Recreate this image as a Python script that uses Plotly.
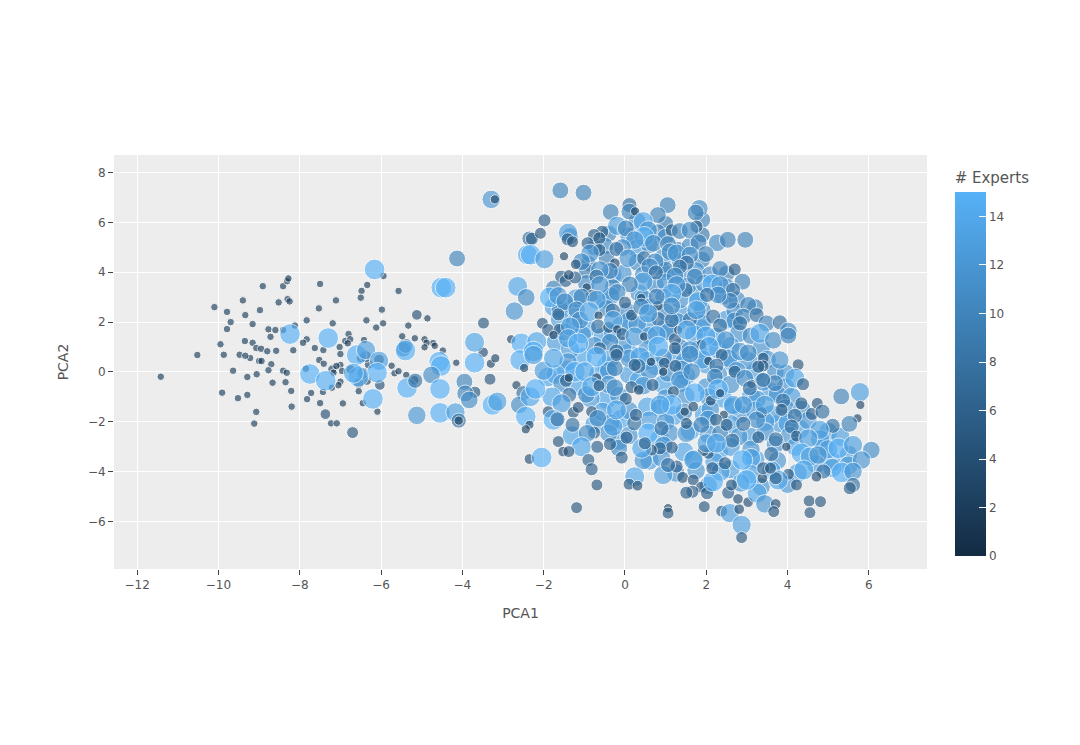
import plotly.graph_objects as go

# values, ten points per line
# big pale points that sit underneath the crowd in the middle
under_pca1 = [
    -1.75, -1.3, -.95, -1.7, -1.05, -.55, -.1, -.45, .1, .55,
    1.0, 1.4, 1.85, 2.5, 2.3, 1.25, .75, .1, -.65, -1.45,
    -1.9, -1.15, -.45, .35, .95, 1.5, 2.0, 2.65, 3.2, 3.6,
    3.1, 2.4, 1.95, 1.2, .55, -.1, -.75, -1.3, -.15, .85,
    1.6, 2.3, 3.1, 3.8, 4.3, 3.6, 1.45, .6, 2.6, 3.2,
    4.9, 5.1, 2.85, 1.75, .35, -.5, .95, -.3,
]
under_pca2 = [
    2.6, 2.55, 1.75, 1.2, .6, 1.4, 1.85, .25, .75, 1.9,
    1.75, 2.3, 1.75, 2.1, .9, .55, .25, -.1, -.1, .1,
    -.2, -.55, -1.1, -.35, -.5, -.15, .3, .35, 0, -.8,
    -1.0, -1.05, -1.7, -1.75, -1.4, -1.9, -2.1, -2.55, -2.75, -2.7,
    -2.35, -3.2, -2.6, -2.05, -2.3, -1.7, -3.2, -3.55, -3.9, -3.5,
    -3.0, -3.6, -1.7, 3.1, 3.15, 2.9, 4.0, 3.9,
]
under_experts = [
    13, 13, 14, 13, 14, 13, 13, 14, 14, 13,
    14, 13, 14, 13, 14, 14, 14, 13, 14, 13,
    14, 14, 14, 14, 14, 14, 13, 13, 13, 13,
    14, 14, 14, 14, 14, 14, 13, 14, 13, 14,
    14, 14, 13, 13, 14, 13, 14, 13, 13, 14,
    13, 13, 12, 12, 12, 12, 11, 12,
]

# second layer of the crowd, roughly one line per band of PCA2
crowd_pca1 = [
    .3, 1.0, 1.9,
    -.4, .1, .8, 1.0, 1.9, -1.35,
    -.5, .3, .6, 1.3, 1.6, -.75,
    -.45, .3, .95, 1.35, 1.9, -.9,
    -.95, -.05, .45, 1.0, 1.35, 1.75, 2.1, 2.5,
    -.95, -.3, .75, 1.0, 1.55, 1.95, 2.5, -1.75,
    -.35, .45, .95, 1.35, 2.4, 2.75, -1.2,
    -.45, .05, .6, 1.0, 1.9, 2.7, 3.2, -1.6,
    .1, .3, 1.3, 1.9, 2.7, -1.6, -1.25,
    -.3, .6, 1.05, 1.7, 2.25, 2.8, 3.1, -1.5, -1.05,
    -.05, .55, 1.35, 1.8, 2.6, 3.35, -1.35, -.75,
    .1, .55, .95, 1.45, 1.9, 2.55, 3.05, 3.5, -1.4, -.35,
    .6, 1.05, 1.4, 2.3, 2.75, 3.7, 3.95, -.4, -1.7, -2.0,
    .45, 1.4, 2.0, 2.6, 3.4, 3.95, -.4, -1.55,
    1.0, 1.5, 2.05, 3.25, 3.75, 4.1, -.15, -.85, -1.8, -.95,
    .1, .85, 1.45, 2.1, 2.65, 3.2, 3.95, 4.35, -.55,
    -.35, .6, 1.0, 2.05, 2.6, 3.45, 4.0, 4.5, 5.0,
    .1, 1.1, 2.05, 2.8, 3.45, 4.05, 4.8, 5.3, -.4,
    -.15, .95, 2.6, 3.1, 3.7, 4.2, 5.0, 5.5,
    .45, .9, 1.7, 2.2, 3.1, 3.75, 4.7, 5.5,
    1.25, 1.75, 2.35, 3.1, 3.6, 4.25, 5.1,
    2.05, 2.85, 3.35, 4.0,
    -6.5, -6.3, -6.75, -6.35, -6.55, -6.05, -7.2, -6.45, -5.18, -6.38, -5.45, -5.4,
]
crowd_pca2 = [
    6.05, 5.95, 6.1,
    5.55, 5.45, 5.6, 5.4, 5.5, 5.45,
    5.05, 4.95, 5.1, 4.9, 5.05, 5.0,
    4.55, 4.4, 4.6, 4.45, 4.5, 4.35,
    4.05, 3.95, 3.9, 4.1, 3.95, 4.05, 3.9, 3.95,
    3.55, 3.4, 3.5, 3.6, 3.45, 3.55, 3.4, 3.35,
    3.05, 2.95, 3.0, 2.9, 3.05, 2.9, 2.95,
    2.55, 2.45, 2.6, 2.4, 2.5, 2.45, 2.6, 2.5,
    2.05, 1.9, 2.0, 1.95, 2.05, 2.1, 1.95,
    1.55, 1.45, 1.6, 1.5, 1.4, 1.55, 1.45, 1.6, 1.5,
    1.05, .95, 1.0, .9, 1.05, .95, .9, 1.05,
    .55, .45, .6, .4, .5, .55, .45, .5, .4, .55,
    .05, -.05, .1, -.1, .05, 0, -.05, .05, -.1, .05,
    -.55, -.45, -.6, -.5, -.4, -.6, -.5, -.45,
    -1.05, -.95, -1.0, -1.1, -.9, -1.0, -.95, -1.05, -1.0, -.9,
    -1.55, -1.45, -1.6, -1.5, -1.4, -1.55, -1.45, -1.5, -1.6,
    -2.05, -1.95, -2.0, -1.9, -2.1, -2.0, -2.05, -1.95, -2.4,
    -2.55, -2.45, -2.5, -2.6, -2.4, -2.55, -2.7, -2.6, -2.45,
    -3.05, -2.95, -3.0, -3.1, -2.9, -3.0, -3.1, -3.3,
    -3.55, -3.45, -3.5, -3.6, -3.45, -3.55, -3.7, -3.75,
    -4.05, -3.95, -4.0, -4.1, -3.95, -4.05, -3.85,
    -4.55, -4.45, -4.6, -4.5,
    .55, .3, .1, -.35, -.45, .5, .1, -.05, -.33, .62, .9, 1.05,
]
crowd_experts = [
    11, 9, 10,
    10, 12, 10, 11, 9, 10,
    11, 13, 11, 10, 11, 10,
    10, 11, 12, 11, 10, 9,
    9, 12, 11, 10, 12, 12, 11, 10,
    11, 10, 11, 12, 11, 12, 11, 10,
    12, 12, 11, 12, 12, 11, 13,
    11, 11, 12, 11, 11, 11, 10, 11,
    12, 12, 12, 12, 11, 13, 12,
    12, 12, 11, 13, 13, 12, 11, 12, 12,
    12, 12, 11, 12, 12, 12, 13, 12,
    12, 13, 11, 12, 13, 12, 12, 12, 12, 13,
    12, 11, 12, 12, 12, 11, 12, 12, 14, 13,
    12, 12, 12, 12, 12, 12, 12, 12,
    12, 12, 12, 12, 12, 13, 12, 13, 14, 11,
    12, 12, 11, 12, 13, 13, 12, 12, 13,
    12, 13, 12, 12, 13, 13, 13, 12, 13,
    12, 12, 12, 12, 12, 12, 13, 13, 12,
    11, 12, 13, 12, 12, 13, 13, 12,
    12, 12, 13, 13, 13, 12, 13, 13,
    12, 12, 13, 13, 13, 13, 13,
    12, 12, 12, 12,
    3, 3, 3, 3, 4, 4, 3, 5, 3, 5, 8, 8,
]

pca1 = [
    -11.42, -10.52, -10.1, -9.79, -9.7, -9.79, -9.95, -9.87, -9.64, -9.91,
    -9.52, -9.29, -9.29, -9.48, -9.35, -9.4, -9.34, -9.16, -8.98, -8.91,
    -9.16, -9.07, -8.95, -8.8, -8.58, -8.77, -8.6, -8.72, -8.41, -9.22,
    -9.34, -9, -8.94, -8.7, -8.77, -9.06, -8.67, -8.41, -8.32, -8.35,
    -8.21, -9.07, -9.12, -8.2, -7.82, -7.72, -7.43, -7.5, -7.21, -8.16,
    -8.52, -8.41, -8.31, -8.28, -8.3, -8.25, -8.12, -7.83, -7.83, -7.92,
    -7.63, -7.42, -7.5, -7.53, -7.11, -7.19, -7.85, -7.52, -7.41, -7.02,
    -7, -6.8, -6.88, -6.76, -6.82, -7, -7.1, -7.17, -6.96, -7,
    -7.05, -6.34, -6.48, -6.5, -5.94, -5.98, -5.95, -6.36, -6.12, -6.42,
    -6.55, -6.45, -6.09, -6.94, -7.23, -7.09, -5.57, -4.86, -5.33, -5.48,
    -5.17, -4.93, -4.72, -4.68, -4.88, -4.93, -4.48, -4.15, -5.74, -5.67,
    -5.57, -5.38, -3.3, -3.19, -2.8,
    -5.12, -7.37, -6.7, -6.03, -3.48, -3.49, -3.32, -3.69, -4.13, -3.29,
    -3.2, -6.16, -4.52, -4.41, -2.64, -2.35, -2.4, -2.72, -2.43, -3.7,
    -3.7, -8.24, -7.3, -7.75, -7.36, -6.6, -6.37, -6.05, -6.1, -6.56,
    -6.68, -6.2, -5.4, -5.36, -5.16, -5.12, -4.57, -4.53, -4.76, -4.55,
    -4.55, -4.17, -4.09, -4.09, -3.95, -3.93, -3.83, -3.26, -3.14, -2.55,
    -2.58, -2.48, -2.67, -2.5, -2.6, -2.44, -2.33, -2.35, -2.35,
    -1.59, -1.02, -1.98, -2.29, -2.08, -1.40, -1.41, -1.29, -1.50, -2.32,
    -1.98, .11, -.35, .11, .25, 1.05, .81, 1.83, 1.74, .45,
    -.19, .02, .57, .47, 1.15, 1.35, 1.76, 1.60, -.56, -.76,
    -.63, -.92, .24, .70, 1.06, -.06, -.21, 1.81, 2.27, 2.53,
    2.96, 1.99, -.63, -.86, -1.07, -1.21, .08, 1.11, 1.27, 1.60,
    .47, .74, .61, 1.52, 1.35, .76, -.25, -.37, -.62, -.70,
    2.34, 2.70, 2.89, -1.57, -1.46, -1.23, -1.38, -.62, 1.23, 1.72,
    .45, .12, 2.15, 2.34, -.94, -.82, -.19, 2.66, -1.85, -1.64,
    -1.48, -1.07, -.70, 1.49, 1.27, .40, 0, 1.15, 1.80, 2.58,
    2.29, 2.02, 3.03, 2.91, 3.24, 2.83, 3.48, 3.81, 4.02, 3.32,
    3.65, 4.02, -1.64, -2.03, -1.89, -1.62, -1.76, -1.19, -1.11, -.88,
    -.65, -.30, .16, .40, .81, .82, 1.15, .78, 1.15, 1.60,
    2.17, 2.34, 1.76, .57, -.66, -.40, -.29, -1.35, -1.40, -.19,
    -.06, .24, .47, .78, 1.23, 1.31, 1.52, 1.99, 2.48, 1.88,
    -.37, -.62, -1.15, -2.17, -2.25, -1.76, -.70, -.21, .37, .82,
    1.23, 1.60, 2.07, 2.38, 2.83, 3.03, 3.40, 3.81, -2.25, -1.23,
    -.99, -.70, -.25, -.21, .33, .24, .64, .97, 1.24, .94,
    1.35, 1.64, 1.60, 2.05, 2.25, 2.21, 2.70, 2.95, 3.40, 3.28,
    4.26, 4.18, 3.69, 3.40, 3.11, 3.07, 4.38, 5.78, 5.32, 5.79,
    5.72, 5.52, -2.2, -2.44, -1.89, -1.45, -1.38, -1.37, -1.56, -.82,
    -.64, -.25, .02, .16, .34, .68, 1.19, 1.15, .86, 1.72,
    1.68, 1.47, 2.11, 2.29, 2.34, 2.66, 2.91, 2.43, 3.36, 3.44,
    3.24, 3.89, 3.85, 4.18, 4.34, 4.60, 4.73, 4.86, 5.11, 4.79,
    5.25, 5.61, 6.06, 5.82, 5.33, 5.61, 4.88, 5.61, 5.53, -1.27,
    -1.76, -1.66, -1.15, -.82, -.67, -1.29, -.29, -.21, .23, .27,
    .57, .04, -.76, -.93, -1.07, -.68, -.37, -1.64, -1.52, -1.38,
    -2.05, -.90, -.82, -.08, .24, .10, .31, -.69, -1.19, 1.06,
    1.06, .94, 1.15, .86, .65, .41, .49, 1.27, 1.06, 1.42,
    1.68, 1.88, 1.66, 1.51, 2.02, 1.95, 2.38, 2.58, 2.87, 2.87,
    2.81, 3.03, 3.25, 3.44, 3.71, 3.66, 4.22, 4.53, 4.81, 4.55,
    4.02, 3.77, 3.71, 3.38, 2.99, 2.54, 2.62, 2.78, 2.17, 2.15,
    2.05, 1.93, 1.68, 1.51, 1.88, 2.24, 2.34, 2.64, 3.28, 3.71,
    3.60, 2.89, 3.40, 3.58, 2.50, 2.91, 1.51, .90, 4.10, 4.22,
    4.51, 4.34, 4.55, 4.75, 4.40, 3.97, 4.71, 2.46, 2.01, 2.25,
]

pca2 = [
    -.19, .68, 2.6, 2.41, 2.0, 1.72, 1.11, .69, .05, -.83,
    -1.05, -.92, -.2, .69, 1.24, 2.87, 2.28, 1.92, 2.48, 3.44,
    1.17, .96, .93, .83, .85, 1.71, 1.68, 1.41, 1.68, .56,
    .65, .44, .44, .31, .07, -.09, -.43, .05, -.03, -.41,
    -.76, -1.6, -2.07, -1.39, -1.09, -.84, -.8, -1.25, -.63, .87,
    2.79, 3.44, 3.64, 3.75, 2.92, 2.83, 1.86, 2.07, 1.31, 1.17,
    .96, .88, 3.53, 2.55, 2.87, 1.95, .13, .48, .33, 1.0,
    .72, 1.52, 1.24, 1.31, 1.15, .28, .24, -.03, .04, -.39,
    -.53, 3.49, 3.25, 2.98, 3.85, 2.5, 1.95, 2.07, 1.78, 1.28,
    -.77, -1.25, -1.59, -1.26, -2.06, -2.06, 3.25, 2.15, 1.86, 1.43,
    1.35, 1.31, 1.16, 1.05, 1.17, .99, .86, .37, .25, -.05,
    .03, -.12, .33, .55, 1.31,
    2.29, -1.69, -2.43, -.52, 1.96, .79, -.29, -.81, 4.55, 6.92,
    6.92, 4.11, 3.38, 3.38, 3.43, 5.35, 4.7, 2.44, 2.99, 1.19,
    .37, 1.52, 1.36, -.08, -.35, .68, .88, .45, -.03, -.19,
    -.05, -1.08, .86, -.64, -.35, -1.74, .41, .24, -.12, -.68,
    -1.64, -1.62, -1.95, -1.95, -.39, -.86, -1.12, -1.32, -1.19, 1.15,
    .48, .16, -.53, -.85, -1.32, -1.79, -.99, -2.12, -3.49,
    7.28, 7.19, 6.08, 5.34, 5.56, 5.58, 5.32, 5.22, 4.64, 4.70,
    4.52, 6.69, 6.41, 6.43, 6.44, 6.69, 6.29, 6.56, 6.39, 6.03,
    5.86, 5.76, 5.69, 5.42, 5.68, 5.65, 5.83, 5.69, 5.62, 5.49,
    5.36, 5.16, 5.29, 5.16, 5.13, 4.99, 4.93, 5.20, 5.18, 5.30,
    5.30, 4.73, 4.89, 4.76, 4.42, 4.32, 4.56, 4.82, 4.76, 4.69,
    4.56, 4.42, 4.22, 4.38, 4.22, 3.99, 4.36, 4.05, 4.09, 3.82,
    4.13, 4.11, 3.62, 3.82, 3.65, 3.79, 3.89, 3.49, 3.85, 3.82,
    3.62, 3.51, 3.51, 3.49, 3.39, 3.05, 3.19, 3.29, 2.99, 3.05,
    2.82, 3.02, 2.89, 3.29, 3.49, 2.97, 2.78, 3.15, 2.82, 2.85,
    3.09, 3.09, 2.69, 2.22, 2.28, 1.95, 1.95, 1.99, 1.64, 1.55,
    1.27, 1.46, 2.31, 1.95, 1.68, 1.71, 1.48, 2.49, 2.08, 2.42,
    2.26, 2.46, 2.28, 2.62, 2.66, 2.12, 2.08, 3.02, 2.65, 2.11,
    2.22, 1.86, 2.48, 2.35, 1.82, 1.79, 2.08, 1.82, 1.35, 1.71,
    1.52, 1.42, 1.42, 1.48, 1.31, 1.68, 1.68, 1.44, 1.28, 1.10,
    1.19, .95, 1.15, 1.22, .82, .55, .61, .82, .61, 1.02,
    .95, .88, 1.02, .68, .82, .77, .55, .48, .68, .01,
    .01, -.25, .15, .68, .24, .28, .41, .35, .24, .01,
    -.32, .01, .72, .44, .25, -.19, .01, -.25, .24, .21,
    .29, -.25, -.45, -.32, -.48, -.65, -.49, -.81, -.98, -1.32,
    -1.86, -2.08, -.68, -2.30, -1.59, -.35, -.23, -.92, -1.26, -.59,
    -.55, -.63, -1.08, -.61, -.72, -.52, -.79, -1.32, -1.32, -.85,
    -1.39, -1.59, -1.15, -.69, -.85, -1.32, -1.32, -1.72, -1.63, -1.32,
    -1.92, -1.15, -1.52, -1.76, -1.26, -1.68, -1.26, -1.59, -2.16, -2.32,
    -3.06, -2.93, -3.13, -3.53, -4.03, -3.99, -3.99, -4.53, -4.66, -1.62,
    -1.92, -1.9, -1.42, -1.59, -1.86, -2.12, -2.19, -1.52, -2.06, -1.72,
    -2.46, -2.63, -2.43, -2.46, -3.0, -3.0, -2.89, -2.79, -3.19, -3.19,
    -3.43, -3.53, -3.90, -3.43, -4.2, -4.5, -4.56, -4.53, -5.44, -5.46,
    -5.66, -4.13, -3.03, -3.06, -3.13, -3.06, -2.86, -3.79, -3.73, -4.23,
    -4.33, -4.62, -4.80, -4.84, -4.86, -5.40, -5.58, -5.66, -6.13, -6.64,
    -5.50, -5.22, -4.86, -5.29, -5.29, -5.60, -4.53, -5.17, -5.2, -5.64,
    -4.10, -4.33, -4.26, -4.26, -4.33, -4.84, -4.53, -5.09, -4.39, -3.86,
    -3.26, -3.15, -3.53, -2.46, -2.12, -1.92, -2.46, -2.75, -2.62, -2.70,
    -3.29, -3.53, -3.86, -3.86, -2.12, -2.08, -2.06, -2.26, -2.19, -2.57,
    -2.66, -3.26, -3.39, -3.33, -3.93, -3.0, -4.2, -3.66, -2.86, -2.86,
]

experts = [
    2, 2, 2, 2, 2, 2, 2, 2, 2, 2,
    2, 2, 2, 2, 2, 2, 2, 2, 2, 2,
    2, 2, 2, 2, 2, 2, 2, 2, 2, 2,
    2, 2, 2, 2, 2, 2, 2, 2, 2, 2,
    2, 2, 2, 2, 2, 2, 2, 2, 2, 2,
    2, 2, 2, 2, 2, 2, 2, 2, 2, 2,
    2, 2, 2, 2, 2, 2, 2, 2, 2, 2,
    2, 2, 2, 2, 2, 2, 2, 2, 2, 2,
    2, 2, 2, 2, 2, 2, 2, 2, 2, 2,
    2, 2, 2, 2, 2, 2, 2, 2, 2, 2,
    2, 2, 2, 2, 2, 2, 2, 2, 2, 2,
    2, 2, 3, 3, 3,
    4, 4, 5, 4, 5, 4, 5, 5, 10, 12,
    3, 15, 15, 15, 14, 8, 14, 12, 11, 14,
    15, 15, 15, 15, 15, 15, 13, 13, 15, 15,
    14, 15, 15, 15, 8, 12, 15, 15, 11, 15,
    15, 13, 8, 3, 10, 10, 11, 15, 13, 15,
    15, 3, 3, 8, 11, 15, 14, 3, 4,
    10, 10, 6, 6, 5, 13, 6, 5, 3, 15,
    13, 8, 10, 10, 3, 10, 10, 11, 10, 14,
    13, 10, 12, 15, 6, 10, 6, 11, 6, 6,
    6, 6, 12, 11, 10, 11, 8, 10, 11, 10,
    10, 10, 6, 12, 11, 4, 12, 11, 12, 11,
    8, 11, 11, 8, 8, 8, 4, 10, 12, 8,
    10, 6, 10, 6, 6, 6, 4, 12, 11, 10,
    13, 10, 15, 12, 3, 6, 11, 8, 15, 12,
    11, 10, 13, 8, 12, 3, 6, 14, 14, 10,
    11, 8, 10, 10, 8, 8, 10, 8, 11, 14,
    11, 10, 6, 5, 6, 5, 3, 11, 11, 14,
    3, 8, 5, 10, 4, 8, 8, 10, 11, 8,
    8, 8, 13, 13, 8, 5, 13, 13, 13, 3,
    6, 13, 3, 13, 6, 3, 14, 14, 12, 4,
    11, 6, 15, 14, 15, 14, 15, 8, 14, 15,
    6, 12, 14, 6, 12, 11, 5, 12, 13, 15,
    14, 4, 10, 6, 8, 6, 3, 5, 6, 3,
    12, 11, 11, 3, 8, 10, 6, 11, 5, 6,
    5, 14, 10, 8, 3, 8, 6, 13, 10, 3,
    3, 10, 15, 3, 5, 6, 3, 8, 13, 14,
    5, 11, 6, 6, 4, 6, 5, 15, 14, 15,
    4, 3, 4, 15, 3, 13, 12, 3, 5, 13,
    11, 8, 6, 8, 6, 6, 5, 8, 8, 13,
    15, 13, 11, 12, 15, 12, 8, 8, 6, 5,
    15, 8, 5, 5, 11, 8, 13, 14, 8, 6,
    15, 6, 6, 11, 14, 6, 6, 5, 4, 5,
    15, 6, 6, 6, 14, 5, 4, 5, 5, 3,
    5, 13, 6, 6, 5, 14, 6, 6, 8, 5,
    5, 5, 6, 6, 6, 5, 5, 13, 13, 5,
    4, 4, 14, 12, 4, 5, 5, 5, 5, 5,
    5, 14, 6, 4, 15, 6, 5, 4, 15, 6,
    5, 5, 13, 12, 10, 6, 10, 8, 6, 8,
    8, 15, 6, 5, 6, 8, 5, 8, 8, 5,
    13, 15, 13, 12, 14, 3, 4, 6, 13, 14,
]

assert len(pca1) == len(pca2) == len(experts), (len(pca1), len(pca2), len(experts))
assert len(under_pca1) == len(under_pca2) == len(under_experts)
assert len(crowd_pca1) == len(crowd_pca2) == len(crowd_experts), (len(crowd_pca1), len(crowd_pca2), len(crowd_experts))

all_experts = under_experts + crowd_experts + experts

fig = go.Figure(
    go.Scatter(
        x=under_pca1 + crowd_pca1 + pca1,
        y=under_pca2 + crowd_pca2 + pca2,
        mode="markers",
        marker=dict(
            size=all_experts,
            sizemode="area",
            sizeref=0.07,
            color=all_experts,
            cmin=0,
            cmax=15,
            colorscale=[[0, "#132B43"], [1, "#56B1F7"]],
            opacity=0.65,
            line=dict(color="white", width=1),
            colorbar=dict(
                title=dict(text="# Experts", font=dict(size=15, color="#555555")),
                x=1.034,
                xanchor="left",
                xpad=0,
                y=0.031,
                yanchor="bottom",
                ypad=0,
                len=0.934,
                thickness=31,
                outlinewidth=0,
                ticks="inside",
                ticklen=7,
                tickcolor="white",
                tickvals=[0, 2, 4, 6, 8, 10, 12, 14],
                tickfont=dict(size=12, color="#555555"),
            ),
        ),
    )
)

fig.update_xaxes(
    title=dict(text="PCA1", font=dict(size=14, color="#555555"), standoff=16),
    range=[-12.57, 7.43],
    dtick=2,
    tick0=0,
    gridcolor="white",
    gridwidth=1.2,
    zeroline=False,
    ticks="outside",
    ticklen=5,
    tickcolor="#444444",
    tickfont=dict(size=12, color="#555555"),
)
fig.update_yaxes(
    title=dict(text="PCA2", font=dict(size=14, color="#555555"), standoff=15),
    range=[-7.9, 8.7],
    dtick=2,
    tick0=0,
    gridcolor="white",
    gridwidth=1.2,
    zeroline=False,
    ticks="outside",
    ticklen=5,
    tickcolor="#444444",
    tickfont=dict(size=12, color="#555555"),
)

# the page has an 8px body margin, so the figure is a bit smaller than the window
fig.update_layout(
    width=1064,
    height=729,
    margin=dict(l=106, r=145, t=147, b=168),
    plot_bgcolor="#EDEDED",
    paper_bgcolor="white",
    font=dict(family="DejaVu Sans, sans-serif"),
)

fig.write_html("out.html")
